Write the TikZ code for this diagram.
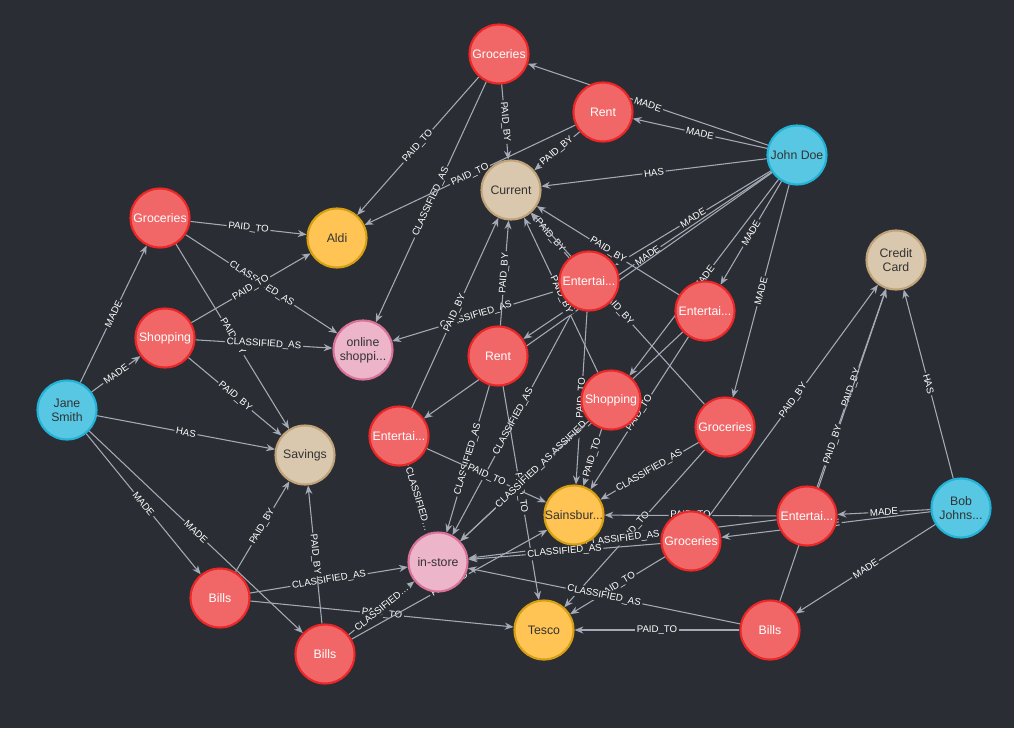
\documentclass[tikz,border=0pt]{standalone}
\usepackage{fontspec}
\setmainfont{Liberation Sans}
\usetikzlibrary{arrows.meta,backgrounds}
\definecolor{bg}{HTML}{2A2D33}
\definecolor{redf}{HTML}{F16667}\definecolor{redd}{HTML}{EB2728}
\definecolor{bluef}{HTML}{57C7E3}\definecolor{blued}{HTML}{23B3D7}
\definecolor{tanf}{HTML}{D9C8AE}\definecolor{tand}{HTML}{C0A378}
\definecolor{yelf}{HTML}{FFC454}\definecolor{yeld}{HTML}{D7A013}
\definecolor{pinkf}{HTML}{ECB5C9}\definecolor{pinkd}{HTML}{DA7298}
\definecolor{edgec}{HTML}{A5ABB6}
\tikzset{
  gnode/.style={circle, minimum size=1.18cm, inner sep=0pt, line width=1.2pt, font=\fontsize{7}{8}\selectfont, align=center},
  txn/.style={gnode, fill=redf, draw=redd, text=white},
  person/.style={gnode, fill=bluef, draw=blued, text=black!80},
  account/.style={gnode, fill=tanf, draw=tand, text=black!80},
  shop/.style={gnode, fill=yelf, draw=yeld, text=black!80},
  kind/.style={gnode, fill=pinkf, draw=pinkd, text=black!80},
  edge/.style={draw=edgec, line width=0.6pt, -{Stealth[length=5pt,width=4pt]}},
  elab/.style={sloped, fill=bg, inner sep=1pt, text=white, font=\fontsize{5.5}{6}\selectfont}
}
\begin{document}
\begin{tikzpicture}[x=0.02cm,y=-0.02cm]
\useasboundingbox (0,0) rectangle (1014,728);

% nodes
\node[txn] (groc1) at (499,54) {Groceries};
\node[txn] (rent1) at (603,112) {Rent};
\node[person] (john) at (797,155) {John Doe};
\node[account] (current) at (511,190) {Current};
\node[txn] (groc2) at (160,218) {Groceries};
\node[shop] (aldi) at (337,238) {Aldi};
\node[account] (credit) at (896,260) {Credit\\Card};
\node[txn] (ent1) at (589,281) {Entertai...};
\node[txn] (ent2) at (705,311) {Entertai...};
\node[txn] (shop1) at (165,338) {Shopping};
\node[kind] (online) at (363,350) {online\\shoppi...};
\node[txn] (rent2) at (498,356) {Rent};
\node[person] (jane) at (67,410) {Jane\\Smith};
\node[txn] (shop2) at (611,400) {Shopping};
\node[txn] (ent3) at (399,436) {Entertai...};
\node[txn] (groc3) at (725,427) {Groceries};
\node[account] (savings) at (305,455) {Savings};
\node[shop] (sains) at (574,515) {Sainsbur...};
\node[person] (bob) at (961,508) {Bob\\Johns...};
\node[txn] (ent4) at (807,516) {Entertai...};
\node[txn] (groc4) at (691,541) {Groceries};
\node[kind] (store) at (438,562) {in-store};
\node[txn] (bills1) at (220,598) {Bills};
\node[shop] (tesco) at (544,630) {Tesco};
\node[txn] (bills2) at (770,630) {Bills};
\node[txn] (bills3) at (325,654) {Bills};

% connectors
\begin{scope}[on background layer]
\fill[bg] (0,0) rectangle (1014,728);
\foreach \a/\b/\l in {
  john/groc1/MADE, john/rent1/MADE, john/current/HAS, john/ent1/MADE,
  john/rent2/MADE, john/ent3/MADE, john/shop2/MADE, john/ent2/MADE, john/groc3/MADE,
  groc1/aldi/PAID\_TO, groc1/current/PAID\_BY, groc1/online/CLASSIFIED\_AS,
  rent1/current/PAID\_BY, rent1/aldi/PAID\_TO,
  groc2/aldi/PAID\_TO, groc2/online/CLASSIFIED\_AS, groc2/savings/PAID\_BY,
  shop1/aldi/PAID\_TO, shop1/online/CLASSIFIED\_AS, shop1/savings/PAID\_BY,
  jane/groc2/MADE, jane/shop1/MADE, jane/savings/HAS, jane/bills1/MADE, jane/bills3/MADE,
  ent1/current/PAID\_BY, ent1/online/CLASSIFIED\_AS, ent1/sains/PAID\_TO, ent1/store/CLASSIFIED\_AS,
  ent2/current/PAID\_BY, ent2/store/CLASSIFIED\_AS, ent2/sains/PAID\_TO,
  rent2/current/PAID\_BY, rent2/tesco/PAID\_TO, rent2/store/CLASSIFIED\_AS,
  ent3/current/PAID\_BY, ent3/store/{CLASSIFIED\ldots}, ent3/sains/PAID\_TO,
  shop2/current/PAID\_BY, shop2/sains/PAID\_TO, shop2/store/CLASSIFIED\_AS,
  groc3/current/PAID\_BY, groc3/tesco/PAID\_TO, groc3/sains/CLASSIFIED\_AS,
  bob/credit/HAS, bob/ent4/MADE, bob/bills2/MADE, bob/groc4/MADE,
  ent4/credit/PAID\_BY, ent4/sains/PAID\_TO, ent4/store/CLASSIFIED\_AS,
  groc4/credit/PAID\_BY, groc4/tesco/PAID\_TO, groc4/store/CLASSIFIED\_AS,
  bills2/tesco/PAID\_TO, bills2/store/CLASSIFIED\_AS, bills2/credit/PAID\_BY,
  bills1/savings/PAID\_BY, bills1/store/CLASSIFIED\_AS, bills1/tesco/PAID\_TO,
  bills3/savings/PAID\_BY, bills3/store/{CLASSIFIED\ldots}, bills3/sains/PAID\_TO}
  \draw[edge] (\a) -- node[elab] {\l} (\b);
\end{scope}

\end{tikzpicture}
\end{document}
